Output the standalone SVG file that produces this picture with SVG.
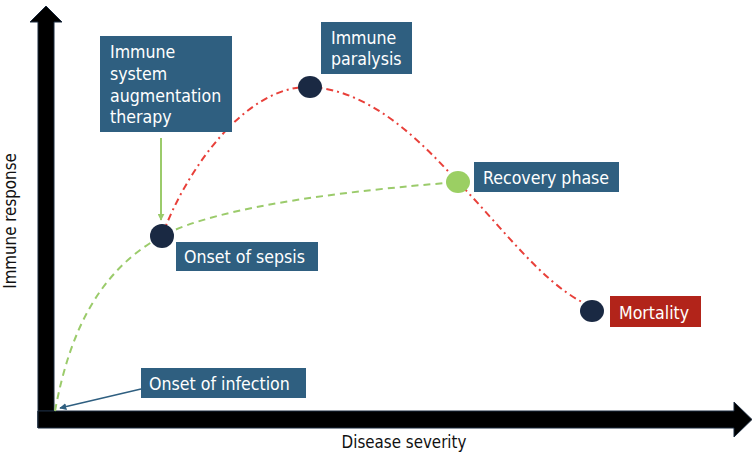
<svg xmlns="http://www.w3.org/2000/svg" width="753" height="457" viewBox="0 0 753 457">
<style>
  text { font-family: "DejaVu Sans Condensed", "DejaVu Sans", sans-serif; font-stretch: condensed; }
  .box { fill: #2F5F80; }
  .lbl { fill: #ffffff; font-size: 17.6px; }
  .axis { fill: #000000; stroke: #1B2A3E; stroke-width: 1; }
  .axlbl { fill: #111111; font-size: 16.8px; }
  .node { fill: #1A2943; }
  .red { fill: none; stroke: #E8403A; stroke-width: 2; stroke-dasharray: 7 4 2 4; }
  .green { fill: none; stroke: #9BCB6B; stroke-width: 2; stroke-dasharray: 7 5; }
</style>
<defs>
  <marker id="ga" viewBox="0 0 10 10" refX="9" refY="5" markerWidth="7" markerHeight="7" orient="auto" markerUnits="userSpaceOnUse">
    <path d="M0,0 L10,5 L0,10 z" fill="#9BCB6B"/>
  </marker>
  <marker id="ba" viewBox="0 0 10 10" refX="9" refY="5" markerWidth="7" markerHeight="7" orient="auto" markerUnits="userSpaceOnUse">
    <path d="M0,0 L10,5 L0,10 z" fill="#2F5F80"/>
  </marker>
</defs>
<rect width="753" height="457" fill="#ffffff"/>

<g id="axes">
  <polygon class="axis" points="38,428 38,22 30,22 46,6 62,22 54,22 54,411 38,411"/>
  <polygon class="axis" points="38,411 734,411 734,402 752,419.5 734,437 734,428 38,428"/>
  <text class="axlbl" x="16" y="221" text-anchor="middle" transform="rotate(-90 16 221)">Immune response</text>
  <text class="axlbl" x="404" y="448" text-anchor="middle">Disease severity</text>
</g>

<g id="connectors">
  <path class="green" d="M55,411 C70,330 100,270 162,236 C220,205 360,190 446,183"/>
  <path class="red" d="M162,236 C185,172 245,85 310,87 C370,90 420,140 458,182 C500,225 540,280 582,302"/>
  <line x1="161" y1="138" x2="161" y2="220" stroke="#9BCB6B" stroke-width="2" marker-end="url(#ga)"/>
  <line x1="141" y1="389" x2="60" y2="408" stroke="#2F5F80" stroke-width="1.5" marker-end="url(#ba)"/>
</g>

<g id="therapy">
  <rect class="box" x="100" y="36" width="132" height="96"/>
  <text class="lbl" x="110" y="58">Immune</text>
  <text class="lbl" x="110" y="80">system</text>
  <text class="lbl" x="110" y="102">augmentation</text>
  <text class="lbl" x="110" y="123">therapy</text>
</g>

<g id="paralysis">
  <ellipse class="node" cx="310" cy="87" rx="12" ry="11"/>
  <rect class="box" x="321" y="22" width="91" height="52"/>
  <text class="lbl" x="331" y="44">Immune</text>
  <text class="lbl" x="331" y="65">paralysis</text>
</g>

<g id="sepsis">
  <ellipse class="node" cx="162" cy="236" rx="12" ry="12"/>
  <rect class="box" x="176" y="242" width="142" height="29"/>
  <text class="lbl" x="184" y="263">Onset of sepsis</text>
</g>

<g id="recovery">
  <ellipse cx="458" cy="182" rx="12" ry="11" fill="#9BCF63"/>
  <rect class="box" x="474" y="162" width="145" height="30"/>
  <text class="lbl" x="483" y="184">Recovery phase</text>
</g>

<g id="mortality">
  <ellipse class="node" cx="592" cy="311" rx="12" ry="11"/>
  <rect x="610" y="296" width="91" height="31" fill="#B2241A"/>
  <text class="lbl" x="619" y="319">Mortality</text>
</g>

<g id="infection">
  <rect class="box" x="141" y="368" width="165" height="30"/>
  <text class="lbl" x="149" y="390">Onset of infection</text>
</g>
</svg>
